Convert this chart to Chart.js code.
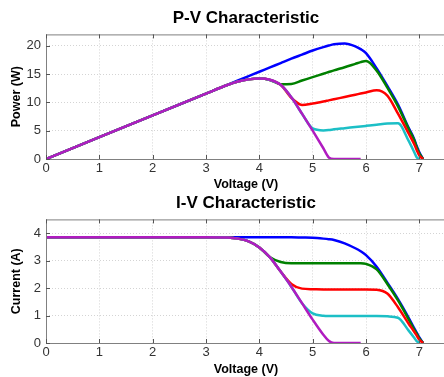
<!DOCTYPE html>
<html>
<head>
<meta charset="utf-8">
<script src="https://cdn.jsdelivr.net/npm/chart.js@4.4.1/dist/chart.umd.min.js"></script>
<style>
  html, body { margin: 0; padding: 0; background: #fff; overflow: hidden; width: 444px; height: 377px; }
  .box { position: absolute; left: 0; width: 492px; }
  #pvBox { top: 0; height: 192px; }
  #ivBox { top: 188px; height: 189px; }
</style>
</head>
<body>
<div class="box" id="pvBox"><canvas id="pv"></canvas></div>
<div class="box" id="ivBox"><canvas id="iv"></canvas></div>
<script>
// voltage samples (V), shared by every curve
const voltage = [0, 1, 2, 3, 3.4, 3.6, 3.8, 4.0, 4.2, 4.4, 4.6, 4.8, 5.0, 5.2, 5.3, 5.4, 5.6, 5.8, 5.9, 6.0, 6.2, 6.4, 6.6, 6.8, 6.9, 6.95, 7.0, 7.07];

// I-V curves (A)
const currentBlue = [3.85, 3.85, 3.85, 3.85, 3.85, 3.85, 3.85, 3.85, 3.85, 3.85, 3.85, 3.84, 3.83, 3.8, 3.78, 3.75, 3.63, 3.45, 3.34, 3.2, 2.78, 2.2, 1.6, 0.92, 0.55, 0.38, 0.2, 0];
const currentGreen = [3.85, 3.85, 3.85, 3.85, 3.84, 3.8, 3.7, 3.48, 3.12, 2.95, 2.9, 2.9, 2.9, 2.9, 2.9, 2.9, 2.9, 2.9, 2.9, 2.88, 2.68, 2.15, 1.55, 0.86, 0.5, 0.34, 0.17, 0];
const currentRed = [3.85, 3.85, 3.85, 3.85, 3.84, 3.8, 3.7, 3.48, 3.12, 2.6, 2.15, 1.98, 1.96, 1.95, 1.95, 1.95, 1.95, 1.95, 1.95, 1.95, 1.94, 1.8, 1.3, 0.7, 0.42, 0.27, 0.12, 0];
const currentCyan = [3.85, 3.85, 3.85, 3.85, 3.84, 3.8, 3.7, 3.48, 3.12, 2.6, 2.05, 1.45, 1.08, 0.99, 0.98, 0.98, 0.98, 0.98, 0.98, 0.98, 0.98, 0.97, 0.92, 0.45, 0.2, 0.07, 0, null];
const currentMagenta = [3.85, 3.85, 3.85, 3.85, 3.84, 3.8, 3.7, 3.48, 3.12, 2.6, 2.05, 1.45, 0.85, 0.3, 0.08, 0, 0, 0, 0, null, null, null, null, null, null, null, null, null];

// P-V curves (W)
const powerBlue = [0, 3.85, 7.7, 11.55, 13.09, 13.86, 14.63, 15.4, 16.17, 16.94, 17.71, 18.43, 19.15, 19.76, 20.03, 20.25, 20.4, 19.9, 19.4, 18.7, 16.0, 12.9, 9.6, 5.5, 3.6, 2.3, 1.2, 0];
const powerGreen = [0, 3.85, 7.7, 11.55, 13.06, 13.68, 14.06, 14.2, 13.95, 13.2, 13.25, 13.85, 14.45, 15.05, 15.35, 15.65, 16.2, 16.8, 17.1, 17.3, 15.6, 12.6, 9.3, 5.3, 3.4, 2.1, 1.0, 0];
const powerRed = [0, 3.85, 7.7, 11.55, 13.06, 13.68, 14.06, 14.2, 13.95, 13.1, 10.8, 9.55, 9.8, 10.15, 10.35, 10.55, 10.95, 11.35, 11.55, 11.75, 12.15, 11.2, 8.0, 4.5, 2.7, 1.6, 0.6, 0];
const powerCyan = [0, 3.85, 7.7, 11.55, 13.06, 13.68, 14.06, 14.2, 13.95, 13.1, 10.9, 8.0, 5.4, 5.05, 5.1, 5.25, 5.45, 5.65, 5.75, 5.85, 6.05, 6.27, 6.3, 3.2, 1.3, 0.3, 0, null];
const powerMagenta = [0, 3.85, 7.7, 11.55, 13.06, 13.68, 14.06, 14.2, 14.0, 13.1, 10.9, 8.0, 5.0, 1.9, 0.3, 0, 0, 0, 0, null, null, null, null, null, null, null, null, null];

const lineColors = ["#0000ff", "#008000", "#ff0000", "#1cbfc6", "#b01cc0"];

Chart.defaults.font.family = "'Liberation Sans', Arial, sans-serif";
Chart.defaults.color = "#333";

function points(values) {
  const out = [];
  values.forEach((v, i) => {
    if (v !== null) out.push({ x: voltage[i], y: v });
  });
  return out;
}

function makeDatasets(series) {
  return series.map((values, i) => ({
    data: points(values),
    borderColor: lineColors[i],
    borderWidth: 2.5,
    pointRadius: 0,
    cubicInterpolationMode: "monotone",
    order: series.length - i,
  }));
}

// box round the plot plus inward tick marks
const axisBox = {
  id: "axisBox",
  afterDraw(chart) {
    const { ctx, chartArea: a, scales } = chart;
    ctx.save();
    ctx.strokeStyle = "#808080";
    ctx.lineWidth = 1;
    ctx.strokeRect(a.left + 0.5, a.top + 0.5, a.right - a.left, a.bottom - a.top);
    ctx.strokeStyle = "#555";
    ctx.beginPath();
    scales.x.ticks.forEach((t) => {
      const x = Math.round(scales.x.getPixelForValue(t.value)) + 0.5;
      ctx.moveTo(x, a.top);
      ctx.lineTo(x, a.top + 4);
      ctx.moveTo(x, a.bottom);
      ctx.lineTo(x, a.bottom - 4);
    });
    scales.y.ticks.forEach((t) => {
      const y = Math.round(scales.y.getPixelForValue(t.value)) + 0.5;
      ctx.moveTo(a.left, y);
      ctx.lineTo(a.left + 4, y);
    });
    ctx.stroke();
    ctx.restore();
  },
};

function makeOptions(titleText, yLabel, yMax, yStep, titlePad, xHeight) {
  return {
    responsive: true,
    maintainAspectRatio: false,
    animation: false,
    plugins: {
      legend: { display: false },
      tooltip: { enabled: false },
      title: {
        display: true,
        text: titleText,
        color: "#000",
        font: { size: 17, weight: "bold" },
        padding: titlePad,
      },
    },
    scales: {
      x: {
        type: "linear",
        min: 0,
        max: 7.5,
        ticks: { stepSize: 1, includeBounds: false, font: { size: 13 }, padding: 2, maxRotation: 0 },
        grid: { color: "#d4d4d4", drawTicks: false },
        border: { display: false, dash: [1, 2] },
        title: { display: true, text: "Voltage (V)", color: "#000", font: { size: 12.5, weight: "bold" }, padding: { top: 0, bottom: 0 } },
        afterFit(scale) { scale.height = xHeight; },
      },
      y: {
        min: 0,
        max: yMax,
        ticks: { stepSize: yStep, includeBounds: false, font: { size: 13 }, padding: 5 },
        grid: { color: "#d4d4d4", drawTicks: false },
        border: { display: false, dash: [1, 2] },
        title: { display: true, text: yLabel, color: "#000", font: { size: 12.5, weight: "bold" }, padding: { top: 9.5, bottom: 0 } },
        afterFit(scale) { scale.width = 46; },
      },
      // empty right-hand strip so the title centres over the plot
      yr: {
        position: "right",
        ticks: { display: false },
        grid: { display: false },
        border: { display: false },
        afterFit(scale) { scale.width = 46; },
      },
    },
  };
}

new Chart(document.getElementById("pv"), {
  type: "line",
  data: { datasets: makeDatasets([powerBlue, powerGreen, powerRed, powerCyan, powerMagenta]) },
  options: makeOptions("P-V Characteristic", "Power (W)", 22, 5, { top: 8, bottom: 6 }, 33),
  plugins: [axisBox],
});

new Chart(document.getElementById("iv"), {
  type: "line",
  data: { datasets: makeDatasets([currentBlue, currentGreen, currentRed, currentCyan, currentMagenta]) },
  options: makeOptions("I-V Characteristic", "Current (A)", 4.5, 1, { top: 5, bottom: 6 }, 34),
  plugins: [axisBox],
});
</script>
</body>
</html>
